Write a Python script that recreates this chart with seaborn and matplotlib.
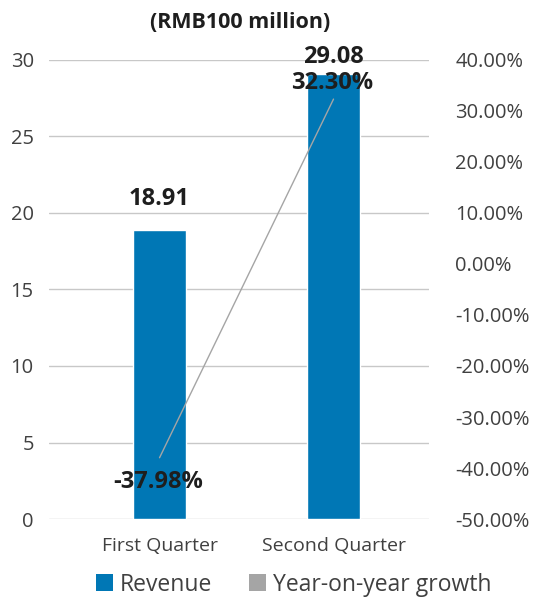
import matplotlib
matplotlib.use("Agg")
import matplotlib.pyplot as plt
from matplotlib.patches import Patch
from matplotlib.ticker import FuncFormatter
import seaborn as sns
import pandas as pd

quarters = ["First Quarter", "Second Quarter"]
revenue = [18.91, 29.08]
growth = [-37.98, 32.30]
revenue_labels = ["18.91", "29.08"]
growth_labels = ["-37.98%", "32.30%"]

sns.set_theme(style="white")
plt.rcParams["font.family"] = ["Open Sans", "DejaVu Sans"]

BLUE = "#0077b5"
GREY = "#a5a5a5"
TEXT = "#404040"
DARK = "#1e1e1e"

fig = plt.figure(figsize=(5.39, 5.98), dpi=100)
ax = fig.add_axes([0.091, 0.132, 0.705, 0.768])

df = pd.DataFrame({"quarter": quarters, "revenue": revenue})
sns.barplot(data=df, x="quarter", y="revenue", color=BLUE, width=0.305,
            saturation=1, ax=ax, zorder=2)

ax.set_ylim(0, 30)
ax.set_yticks(range(0, 31, 5))
ax.set_xlim(-0.635, 1.549)
ax.set_xlabel("")
ax.set_ylabel("")
ax.grid(axis="y", color="#c8c8c8", linewidth=1.0, zorder=0)
ax.set_axisbelow(True)
for s in ax.spines.values():
    s.set_visible(False)
ax.tick_params(axis="y", length=0, labelsize=14.5, colors=TEXT, pad=11)
ax.tick_params(axis="x", length=0, labelsize=14, colors=TEXT, pad=13)

ax2 = ax.twinx()
ax2.plot(range(len(growth)), growth, color=GREY, linewidth=1.0, zorder=3)
ax2.set_ylim(-50, 40)
ax2.set_yticks(range(-50, 41, 10))
ax2.yaxis.set_major_formatter(FuncFormatter(lambda v, _: f"{v:.2f}%"))
for s in ax2.spines.values():
    s.set_visible(False)
ax2.tick_params(axis="y", length=0, labelsize=14.5, colors=TEXT, pad=19)
ax2.grid(False)

# value labels for bars
bar_offsets = [31, 17]
for i, (v, lab, off) in enumerate(zip(revenue, revenue_labels, bar_offsets)):
    ax.annotate(lab, (i, v), xytext=(0, off), textcoords="offset pixels",
                ha="center", va="center", fontsize=17, fontweight="bold",
                color=DARK, zorder=5)

# value labels for growth line
line_offsets = [-24, 16]
for i, (v, lab, off) in enumerate(zip(growth, growth_labels, line_offsets)):
    ax2.annotate(lab, (i, v), xytext=(-1, off), textcoords="offset pixels",
                 ha="center", va="center", fontsize=17, fontweight="bold",
                 color=DARK, zorder=5)

fig.text(0.445, 0.963, "(RMB100 million)", ha="center", va="center",
         fontsize=15.5, fontweight="bold", color=DARK)

handles = [Patch(facecolor=BLUE, edgecolor="none", label="Revenue"),
           Patch(facecolor=GREY, edgecolor="none", label="Year-on-year growth")]
fig.legend(handles=handles, loc="center", bbox_to_anchor=(0.545, 0.022), ncol=2,
           frameon=False, fontsize=16.5, handlelength=0.75, handleheight=0.75,
           handletextpad=0.3, columnspacing=1.6, labelcolor=TEXT)

fig.savefig("out.png", dpi=100)
